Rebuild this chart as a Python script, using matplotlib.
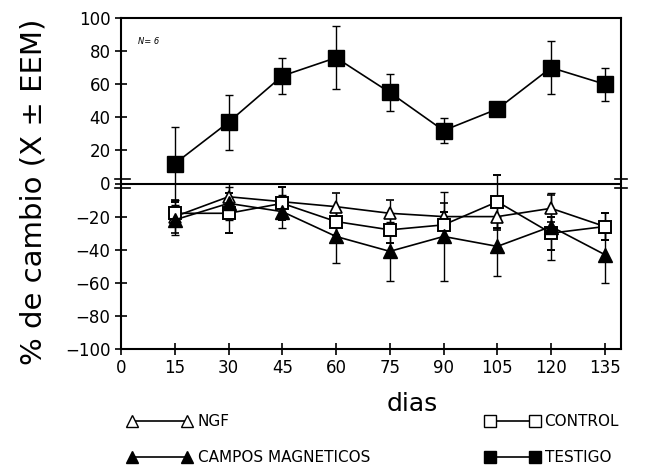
import matplotlib
matplotlib.use("Agg")
import matplotlib.pyplot as plt
from matplotlib.lines import Line2D

days = [15, 30, 45, 60, 75, 90, 105, 120, 135]
testigo = [12, 37, 65, 76, 55, 32, 45, 70, 60]
testigo_err = [22, 16.5, 11, 19, 11, 7.5, 2, 16, 10]
campos = [-22, -12, -17, -32, -41, -32, -38, -26, -43]
campos_err = [9, 10, 10, 16, 18, 27, 18, 20, 17]
control = [-18, -18, -12, -23, -28, -25, -11, -30, -26]
control_err = [7, 12, 10, 8, 8, 8, 16, 10, 8]
ngf = [-20, -8, -11, -14, -18, -20, -20, -15, -26]
ngf_err = [10, 8, 9, 8, 8, 8, 8, 8, 8]
xticks = [0, 15, 30, 45, 60, 75, 90, 105, 120, 135]
yticks = [-100, -80, -60, -40, -20, 0, 20, 40, 60, 80, 100]
legend_labels = ['NGF', 'CAMPOS MAGNETICOS', 'CONTROL', 'TESTIGO']

plt.rcParams['font.family'] = ['DejaVu Sans']
W, H = 660, 471
fig = plt.figure(figsize=(W / 100, H / 100), dpi=100)
ax = fig.add_axes([121 / W, 1 - 349 / H, 500 / W, 331 / H])

common = dict(color='black', lw=1.2, elinewidth=1.0, capsize=3, capthick=1.0)
ax.errorbar(days, ngf, yerr=ngf_err, marker='^', ms=9, mfc='white', mec='black', mew=1.2, **common)
ax.errorbar(days, control, yerr=control_err, marker='s', ms=9, mfc='white', mec='black', mew=1.4, **common)
ax.errorbar(days, campos, yerr=campos_err, marker='^', ms=10, mfc='black', mec='black', **common)
ax.errorbar(days, testigo, yerr=testigo_err, marker='s', ms=11, mfc='black', mec='black', **common)

ax.axhline(0, color='black', lw=1.5, zorder=5)
# break marks at zero on both sides
for xp in (0.0, 1.0):
    for dy in (-0.014, 0.014):
        ax.plot([xp - 0.012, xp + 0.018 if xp == 0 else xp + 0.012],
                [0.5 + dy, 0.5 + dy], transform=ax.transAxes,
                color='black', lw=1.2, clip_on=False, zorder=6)

ax.set_xlim(0, 139.5)
ax.set_ylim(-100, 100)
ax.set_xticks(xticks)
ax.set_yticks(yticks)
ax.set_yticklabels([('\u2212' + str(-v)) if v < 0 else str(v) for v in yticks])
ax.tick_params(direction='inout', length=8, width=1.2, labelsize=12)
for s in ax.spines.values():
    s.set_linewidth(1.5)

fig.text(412 / W, 1 - 404 / H, 'dias', fontsize=18, ha='center', va='center')
fig.text(34 / W, 1 - 192 / H, '% de cambio (X \u00b1 EEM)', fontsize=21,
         rotation=90, ha='center', va='center')
ax.text(0.035, 0.93, 'N= 6', transform=ax.transAxes, fontsize=6, style='italic', va='center')

handles = [
    Line2D([], [], color='black', lw=1.2, marker='^', ms=9, mfc='white', mec='black'),
    Line2D([], [], color='black', lw=1.2, marker='^', ms=9, mfc='black', mec='black'),
    Line2D([], [], color='black', lw=1.2, marker='s', ms=8, mfc='white', mec='black'),
    Line2D([], [], color='black', lw=1.2, marker='s', ms=8, mfc='black', mec='black'),
]
spots = [(127, 422, 4.2, 0.42), (127, 458, 4.2, 0.42), (485, 422, 3.6, 0.3), (485, 458, 3.6, 0.3)]
for h, lab, (x0, y0, hl, tp) in zip(handles, legend_labels, spots):
    fig.legend([h], [lab], loc='center left', bbox_to_anchor=(x0 / W, 1 - y0 / H),
               frameon=False, numpoints=2, fontsize=11, handlelength=hl,
               handletextpad=tp, borderpad=0, borderaxespad=0)

fig.savefig('out.png', dpi=100)
